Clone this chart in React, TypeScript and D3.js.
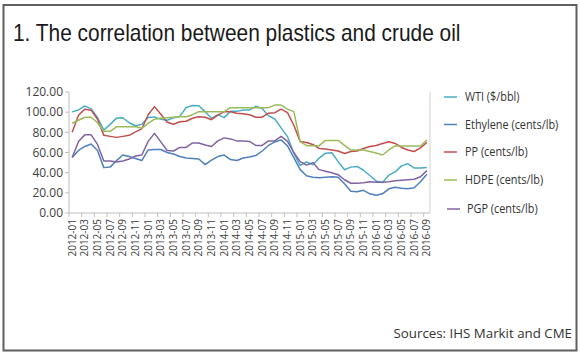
import React from "react";
import * as d3 from "d3";

const categories = [
  "2012-01","2012-02","2012-03","2012-04","2012-05","2012-06","2012-07","2012-08","2012-09","2012-10","2012-11","2012-12",
  "2013-01","2013-02","2013-03","2013-04","2013-05","2013-06","2013-07","2013-08","2013-09","2013-10","2013-11","2013-12",
  "2014-01","2014-02","2014-03","2014-04","2014-05","2014-06","2014-07","2014-08","2014-09","2014-10","2014-11","2014-12",
  "2015-01","2015-02","2015-03","2015-04","2015-05","2015-06","2015-07","2015-08","2015-09","2015-10","2015-11","2015-12",
  "2016-01","2016-02","2016-03","2016-04","2016-05","2016-06","2016-07","2016-08","2016-09",
];

const wti = [
  100.3, 102.2, 106.2, 103.3, 94.7, 82.3, 87.9, 94.1, 94.5, 89.5, 86.5, 87.9,
  94.8, 95.3, 92.9, 92.0, 94.5, 95.8, 104.6, 106.6, 106.3, 100.5, 93.9, 97.6,
  94.6, 100.8, 100.8, 102.1, 102.2, 105.8, 103.6, 96.5, 93.2, 84.4, 75.8, 59.3,
  47.2, 50.6, 47.8, 54.5, 59.3, 59.8, 50.9, 42.9, 45.5, 46.2, 42.4, 37.2,
  31.7, 30.3, 37.5, 40.8, 46.7, 48.8, 44.7, 44.7, 45.2,
];

const ethylene = [
  55, 62, 66, 68.5, 62, 45, 45.5, 52, 57.5, 56, 54, 52,
  62.5, 63, 63, 60, 58.5, 56, 54.5, 54, 53.5, 48, 52.5, 56,
  57.5, 53, 52, 54.5, 55.5, 57, 61.5, 67, 70.5, 72.5, 66.5, 55,
  43, 37, 35.5, 35, 35.5, 36, 35.5, 29, 21.5, 21, 22.5, 19,
  17.5, 19, 24, 25.5, 24.5, 24, 25, 31, 38.5,
];

const pp = [
  80, 97, 103, 102, 93, 77, 76, 75, 76, 77, 80.5, 83.5,
  97.5, 105.5, 98, 90, 88, 90.5, 91, 94, 95.5, 95, 92.5, 97,
  100.5, 100.5, 99, 98.5, 97.5, 95, 95, 99, 99.5, 103, 99.5, 87,
  71, 70, 68, 64, 63.5, 62.5, 61.5, 59, 61, 61.5, 64, 66,
  67, 69, 70.7, 69, 65, 62.5, 61, 64.5, 70,
];

const hdpe = [
  89, 92, 95, 95, 89.5, 81, 81, 85.5, 85.5, 85.5, 85.5, 84,
  89, 93, 94, 94.5, 95, 95.5, 95.5, 97.5, 100.5, 100.5, 100.5, 100.5,
  100.5, 104.5, 104.5, 104.5, 104.5, 104.5, 104.5, 104.5, 107, 107, 103, 100.5,
  70.7, 66.8, 66.8, 66.8, 72, 72, 72, 67, 62.5, 62.5, 62.5, 61,
  59.5, 57.5, 62.5, 66.5, 66.5, 66.5, 66.5, 66.5, 72.4,
];

const pgp = [
  55, 71, 77.5, 77.5, 68, 51.5, 51.5, 50.5, 51.5, 53.5, 56.5, 57.5,
  71, 79, 70.5, 62, 61.5, 65, 65, 69.5, 69.5, 67.5, 66, 71.5,
  74.5, 73.5, 71.5, 71.5, 71, 67, 67, 71.5, 71.5, 76, 71, 60,
  51, 47.5, 50, 43, 41.5, 40, 38, 33, 29.5, 29.5, 30, 31,
  30.5, 30.5, 31, 32, 32.5, 33, 33.5, 36, 42,
];

const yTicks = [0, 20, 40, 60, 80, 100, 120];
const seriesNames = ["WTI ($/bbl)", "Ethylene (cents/lb)", "PP (cents/lb)", "HDPE (cents/lb)", "PGP (cents/lb)"];
const seriesData = [wti, ethylene, pp, hdpe, pgp];
const seriesColors = ["#4bacc6", "#4f81bd", "#c0504d", "#9bbb59", "#8064a2"];
const legendY = [97, 124.5, 152, 180, 209];

const title = "1. The correlation between plastics and crude oil";
const source = "Sources: IHS Markit and CME";

export default function App() {
  const W = 580, H = 358;
  const left = 69, right = 430, top = 92, bottom = 213;
  const x = d3.scaleBand<string>().domain(categories).range([left, right]);
  const y = d3.scaleLinear().domain([0, 120]).range([bottom, top]);
  const cx = (c: string) => (x(c) as number) + x.bandwidth() / 2;

  const line = d3
    .line<number>()
    .x((_, i) => cx(categories[i]))
    .y((d) => y(d));

  const tickBoundaries = d3.range(0, categories.length + 1, 2).map((i) => left + i * x.step());
  const squeeze = 0.87;

  return (
    <svg
      width={W}
      height={H}
      style={{ position: "absolute", left: 0, top: 0, display: "block", background: "#fff" }}
    >
      <rect x={0} y={0} width={W} height={H} fill="#fff" />
      <rect x={3.5} y={5} width={573} height={345.5} fill="none" stroke="#5f5f5f" strokeWidth={2} />
      <g transform={`translate(13,41) scale(${squeeze},1)`}>
        <text
          x={0}
          y={0}
          fontFamily="'Liberation Sans', Arial, sans-serif"
          fontSize={24}
          fill="#1a1a1a"
        >
          {title}
        </text>
      </g>

      {/* y axis */}
      <line x1={left} x2={left} y1={top} y2={bottom} stroke="#bfbfbf" strokeWidth={1} />
      {yTicks.map((t) => (
        <g key={t}>
          <line x1={left - 4} x2={left} y1={y(t)} y2={y(t)} stroke="#bfbfbf" />
          <text
            x={63}
            y={y(t)}
            dy="0.35em"
            textAnchor="end"
            fontFamily="'Open Sans', sans-serif"
            fontSize={12}
            fill="#404040"
          >
            {t.toFixed(2)}
          </text>
        </g>
      ))}

      {/* x axis */}
      <line x1={left} x2={right} y1={bottom} y2={bottom} stroke="#bfbfbf" />
      <line x1={right} x2={right} y1={top} y2={bottom} stroke="#d0d0d0" />
      {tickBoundaries.map((tx, i) => (
        <line key={i} x1={tx} x2={tx} y1={bottom} y2={bottom + 4} stroke="#bfbfbf" />
      ))}
      {categories.map((c, i) =>
        i % 2 === 0 ? (
          <text
            key={c}
            transform={`translate(${cx(c)},${bottom + 6}) rotate(-90)`}
            textAnchor="end"
            dy="0.35em"
            fontFamily="'Open Sans', sans-serif"
            fontSize={10}
            fill="#404040"
          >
            {c}
          </text>
        ) : null
      )}

      {/* series */}
      {seriesData.map((s, k) => (
        <path
          key={k}
          d={line(s) || ""}
          fill="none"
          stroke={seriesColors[k]}
          strokeWidth={1.5}
          strokeLinejoin="round"
        />
      ))}

      {/* legend */}
      {seriesNames.map((n, k) => (
        <g key={n}>
          <line
            x1={444 + (k === 4 ? 3 : 0)}
            x2={457 + (k === 4 ? 3 : 0)}
            y1={legendY[k]}
            y2={legendY[k]}
            stroke={seriesColors[k]}
            strokeWidth={1.5}
          />
          <g transform={`translate(${465 + (k === 4 ? 2 : 0)},${legendY[k]}) scale(${squeeze},1)`}>
            <text
              x={0}
              y={0}
              dy="0.35em"
              fontFamily="'Open Sans', sans-serif"
              fontSize={12.5}
              fill="#333"
            >
              {n}
            </text>
          </g>
        </g>
      ))}

      <text
        x={572}
        y={333}
        dy="0.35em"
        textAnchor="end"
        fontFamily="'Open Sans', sans-serif"
        fontSize={13.3}
        fill="#333"
      >
        {source}
      </text>
    </svg>
  );
}
